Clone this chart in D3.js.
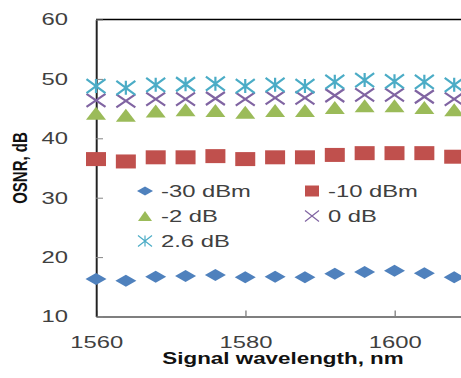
<!DOCTYPE html>
<html lang="en">
<head>
<meta charset="UTF-8">
<title>OSNR vs wavelength</title>
<script src="https://d3js.org/d3.v7.min.js"></script>
<style>
  body { margin: 0; background: #fff; }
  text { font-family: "Liberation Sans", Arial, sans-serif; }
  .tick text { fill: #404040; font-size: 17px; }
  .tick line { stroke: #868686; }
</style>
</head>
<body>
<div id="chart"></div>
<script>
// data
var wavelengths = [1560, 1564, 1568, 1572, 1576, 1580, 1584, 1588, 1592, 1596, 1600, 1604, 1608];
var osnrM30 = [16.3, 16.0, 16.7, 16.8, 17.0, 16.6, 16.7, 16.6, 17.2, 17.5, 17.7, 17.3, 16.6];
var osnrM10 = [36.5, 36.1, 36.8, 36.8, 37.0, 36.5, 36.8, 36.8, 37.2, 37.5, 37.5, 37.5, 36.9];
var osnrM2  = [44.2, 43.9, 44.6, 44.8, 44.7, 44.4, 44.7, 44.7, 45.2, 45.5, 45.5, 45.2, 44.8];
var osnr0   = [46.4, 46.3, 46.6, 46.6, 46.7, 46.6, 46.8, 46.8, 47.2, 47.3, 47.3, 47.0, 46.6];
var osnr26  = [48.8, 48.5, 49.0, 49.1, 49.2, 48.8, 49.0, 48.8, 49.5, 49.8, 49.6, 49.5, 49.0];
var seriesNames = ["-30 dBm", "-10 dBm", "-2 dB", "0 dB", "2.6 dB"];
var yTicks = [10, 20, 30, 40, 50, 60];
var xTicks = [1560, 1580, 1600];

var series = [
  {name: seriesNames[0], values: osnrM30, shape: "diamond", color: "#4F81BD"},
  {name: seriesNames[1], values: osnrM10, shape: "square",  color: "#C0504D"},
  {name: seriesNames[2], values: osnrM2,  shape: "triangle", color: "#9BBB59"},
  {name: seriesNames[3], values: osnr0,   shape: "x",       color: "#8064A2"},
  {name: seriesNames[4], values: osnr26,  shape: "star",    color: "#4BACC6"}
];

// the picture is stretched sideways, so draw everything in a scaled group
var SX = 1.4;

var svg = d3.select("#chart").append("svg")
    .attr("width", 461)
    .attr("height", 378);

var g = svg.append("g").attr("transform", "scale(" + SX + ",1)");

var x = d3.scaleLinear().domain([1560, 1620]).range([96 / SX, 543.75 / SX]);
var y = d3.scaleLinear().domain([10, 60]).range([316.5, 19.5]);

// top border of plot area
g.append("line")
    .attr("x1", x(1560)).attr("x2", x(1620))
    .attr("y1", y(60)).attr("y2", y(60))
    .attr("stroke", "#000").attr("stroke-width", 1.6);

var yAxis = d3.axisLeft(y).tickValues(yTicks)
    .tickSizeInner(-5).tickSizeOuter(0).tickPadding(20);
var xAxis = d3.axisBottom(x).tickValues(xTicks).tickFormat(d3.format("d"))
    .tickSizeInner(-6).tickSizeOuter(0).tickPadding(19);

g.append("g")
    .attr("transform", "translate(0," + y(10) + ")")
    .call(xAxis)
    .call(function(a) { a.select(".domain").attr("stroke", "#555").attr("stroke-width", 1.6); })
    .selectAll("text").attr("font-size", 17).attr("font-family", null);

g.append("g")
    .attr("transform", "translate(" + x(1560) + ",0)")
    .call(yAxis)
    .call(function(a) { a.select(".domain").attr("stroke", "#222").attr("stroke-width", 1.4); })
    .selectAll("text").attr("font-size", 17).attr("font-family", null);

// marker paths, sizes given in screen pixels
function markerPath(shape, w, h) {
  var hw = w / 2 / SX, hh = h / 2;
  if (shape === "diamond") return "M0," + (-hh) + "L" + hw + ",0L0," + hh + "L" + (-hw) + ",0Z";
  if (shape === "square") return "M" + (-hw) + "," + (-hh) + "H" + hw + "V" + hh + "H" + (-hw) + "Z";
  if (shape === "triangle") return "M0," + (-hh) + "L" + hw + "," + hh + "L" + (-hw) + "," + hh + "Z";
  if (shape === "x") return "M" + (-hw) + "," + (-hh) + "L" + hw + "," + hh + "M" + hw + "," + (-hh) + "L" + (-hw) + "," + hh;
  return "M" + (-hw) + "," + (-hh) + "L" + hw + "," + hh + "M" + hw + "," + (-hh) + "L" + (-hw) + "," + hh +
         "M0," + (-hh) + "V" + hh;
}
var plotSize = {diamond: [21, 12], square: [20, 14], triangle: [20, 13], x: [19, 13], star: [19, 14]};
var legSize = {diamond: [16, 9], square: [14, 11], triangle: [14, 10], x: [14, 11], star: [14, 11]};

function styleMarker(sel, s, width) {
  if (s.shape === "x" || s.shape === "star") {
    sel.attr("fill", "none").attr("stroke", s.color)
       .attr("stroke-width", width).attr("vector-effect", "non-scaling-stroke");
  } else {
    sel.attr("fill", s.color);
  }
}

series.forEach(function(s) {
  var sz = plotSize[s.shape];
  var pts = g.append("g").selectAll("path")
      .data(s.values.map(function(v, i) { return [wavelengths[i], v]; }))
    .enter().append("path")
      .attr("transform", function(d) { return "translate(" + x(d[0]) + "," + y(d[1]) + ")"; })
      .attr("d", markerPath(s.shape, sz[0], sz[1]));
  styleMarker(pts, s, 2.2);
});

// legend
var legPos = [[145, 191], [312, 191], [145, 216], [312, 216], [145, 241]];
series.forEach(function(s, i) {
  var p = legPos[i], sz = legSize[s.shape];
  var m = g.append("path")
      .attr("transform", "translate(" + p[0] / SX + "," + p[1] + ")")
      .attr("d", markerPath(s.shape, sz[0], sz[1]));
  styleMarker(m, s, 1.2);
  g.append("text")
      .attr("x", (p[0] + 16) / SX)
      .attr("y", p[1])
      .attr("dy", "0.35em")
      .attr("font-size", 17)
      .attr("fill", "#404040")
      .text(s.name);
});

// axis titles
g.append("text")
    .attr("x", 283 / SX)
    .attr("y", 364)
    .attr("text-anchor", "middle")
    .attr("font-size", 16)
    .attr("font-weight", "bold")
    .attr("fill", "#111")
    .text("Signal wavelength, nm");

g.append("text")
    .attr("transform", "translate(" + 27 / SX + ",168) rotate(-90)")
    .attr("text-anchor", "middle")
    .attr("font-size", 15)
    .attr("font-weight", "bold")
    .attr("fill", "#111")
    .text("OSNR, dB");
</script>
</body>
</html>
